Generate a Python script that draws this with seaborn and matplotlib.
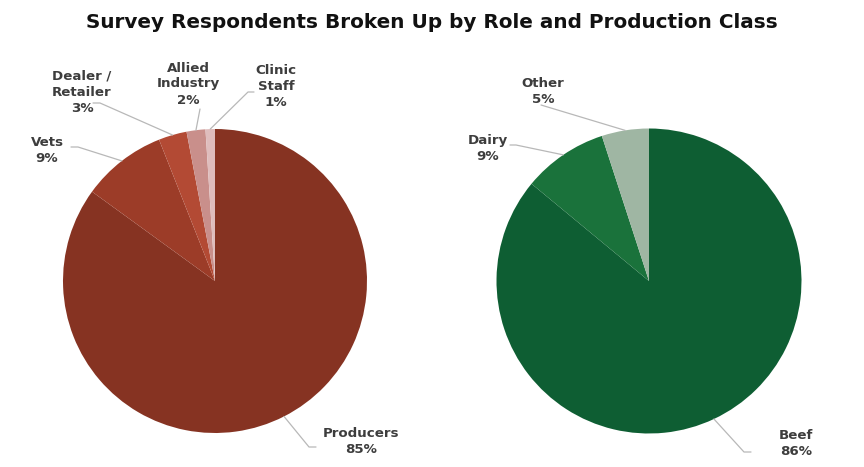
import numpy as np
import matplotlib
matplotlib.use("Agg")
import matplotlib.pyplot as plt
import seaborn as sns

# data
role_labels = ["Producers", "Vets", "Dealer /\nRetailer", "Allied\nIndustry", "Clinic\nStaff"]
role_values = [85, 9, 3, 2, 1]
role_colors = ["#863322", "#9c3c28", "#b34a34", "#c98f8b", "#dfbdbd"]

class_labels = ["Beef", "Dairy", "Other"]
class_values = [86, 9, 5]
class_colors = ["#0e5e33", "#1a723b", "#9fb6a3"]

sns.set_theme(style="white")
plt.rcParams["font.family"] = ["DejaVu Sans"]

W, H = 864, 467
fig = plt.figure(figsize=(W / 100, H / 100), dpi=100)
fig.patch.set_facecolor("white")


def px_axes(cx, cy, r):
    # axes in figure pixels, pie of radius 1 fills it
    return fig.add_axes([(cx - r) / W, (H - cy - r) / H, 2 * r / W, 2 * r / H])


def to_data(p, cx, cy, r):
    return ((p[0] - cx) / r, (cy - p[1]) / r)


# label placement in pixels: text centre, and bend points of the leader line
role_place = [
    ((361, 442), [(309, 447), (316, 447)]),
    ((47, 150), [(78, 147), (71, 147)]),
    ((82, 92), [(100, 103), (93, 103)]),
    ((188, 84), [(200, 109)]),
    ((276, 86), [(248, 92), (254, 92)]),
]
class_place = [
    ((796, 444), [(744, 452), (751, 452)]),
    ((488, 148), [(516, 145), (510, 145)]),
    ((543, 91), [(541, 105)]),
]


def draw_pie(cx, cy, r, labels, values, colors, place):
    ax = px_axes(cx, cy, r)
    wedges, _ = ax.pie(values, colors=colors, startangle=90, counterclock=False,
                       radius=1, wedgeprops=dict(linewidth=0))
    ax.set_xlim(-1, 1)
    ax.set_ylim(-1, 1)
    ax.set_aspect("equal")
    ax.axis("off")
    total = sum(values)
    for w, lab, val, (tpos, bends) in zip(wedges, labels, values, place):
        mid = np.deg2rad((w.theta1 + w.theta2) / 2)
        pts = [(np.cos(mid), np.sin(mid))] + [to_data(b, cx, cy, r) for b in bends]
        xs, ys = zip(*pts)
        ax.plot(xs, ys, color="#b8b8b8", lw=0.9, clip_on=False)
        tx, ty = to_data(tpos, cx, cy, r)
        ax.text(tx, ty, f"{lab}\n{round(100 * val / total)}%", ha="center", va="center",
                fontsize=9.6, fontweight="bold", color="#3d3d3d", linespacing=1.3,
                clip_on=False)
    return ax


draw_pie(215, 281, 152, role_labels, role_values, role_colors, role_place)
draw_pie(649, 281, 152.5, class_labels, class_values, class_colors, class_place)

fig.text(0.5, 1 - 22 / H, "Survey Respondents Broken Up by Role and Production Class",
         ha="center", va="center", fontsize=14.4, fontweight="bold", color="#111111")

fig.savefig("out.png", dpi=100, facecolor="white")
